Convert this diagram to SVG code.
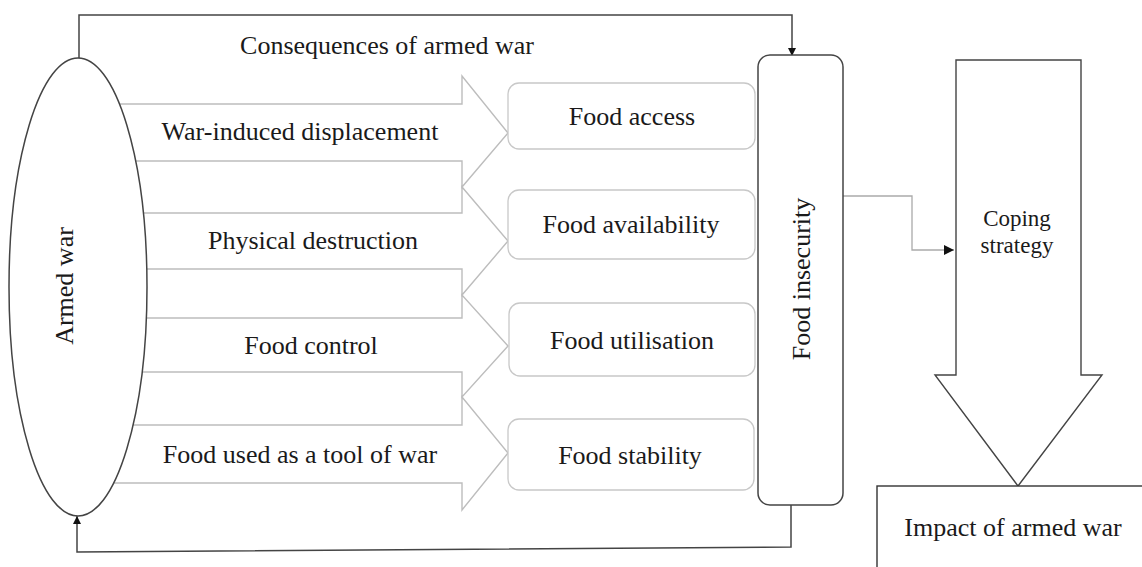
<svg xmlns="http://www.w3.org/2000/svg" width="1142" height="567" viewBox="0 0 1142 567">
<style>
text{font-family:"Liberation Serif","Times New Roman",serif;font-size:26px;fill:#1a1a1a;text-anchor:middle}
.dark{fill:none;stroke:#444;stroke-width:1.5}
.grey{fill:#fff;stroke:#bdbdbd;stroke-width:1.4}
.food{fill:#fff;stroke:#c8c8c8;stroke-width:1.3}
</style>
<defs>
<marker id="ah" viewBox="0 0 10 10" refX="10" refY="5" markerWidth="8" markerHeight="8" markerUnits="userSpaceOnUse" orient="auto"><path d="M0,0 L10,5 L0,10 z" fill="#111"/></marker>
<marker id="ah2" viewBox="0 0 10 10" refX="10" refY="5" markerWidth="10" markerHeight="10" markerUnits="userSpaceOnUse" orient="auto"><path d="M0,0 L10,5 L0,10 z" fill="#111"/></marker>
</defs>
<g id="flow-arrows">
<polygon class="grey" points="80,104 462,104 462,76 508,133 462,187 462,161 80,161"/>
<polygon class="grey" points="80,213 462,213 462,187 508,241 462,295 462,269 80,269"/>
<polygon class="grey" points="80,318 462,318 462,295 508,346 462,397 462,372 80,372"/>
<polygon class="grey" points="80,425 462,425 462,397 508,453 462,510 462,483 80,483"/>
</g>
<g id="connectors">
<polyline class="dark" points="79,58 79,15 792,15 792,56" marker-end="url(#ah)"/>
<polyline class="dark" points="791,505 791,547 77,552 77,516" marker-end="url(#ah)"/>
<polyline fill="none" stroke="#aaa" stroke-width="1.3" points="843,196 912,196 912,250 954,250" marker-end="url(#ah2)"/>
</g>
<g id="armed-war">
<ellipse cx="78" cy="287" rx="69" ry="229" fill="#fff" stroke="#444" stroke-width="1.5"/>
<text transform="translate(73,286) rotate(-90)">Armed war</text>
</g>
<text x="387" y="54">Consequences of armed war</text>
<text x="300" y="140">War-induced displacement</text>
<text x="313" y="249">Physical destruction</text>
<text x="311" y="354">Food control</text>
<text x="300" y="463">Food used as a tool of war</text>
<g id="food-access"><rect class="food" x="508" y="83" width="247" height="66" rx="11"/><text x="632" y="125">Food access</text></g>
<g id="food-availability"><rect class="food" x="508" y="190" width="247" height="69" rx="11"/><text x="631" y="233">Food availability</text></g>
<g id="food-utilisation"><rect class="food" x="509" y="303" width="246" height="73" rx="11"/><text x="632" y="349">Food utilisation</text></g>
<g id="food-stability"><rect class="food" x="508" y="419" width="246" height="71" rx="11"/><text x="630" y="464">Food stability</text></g>
<g id="food-insecurity">
<rect x="758" y="55" width="85" height="450" rx="12" fill="#fff" stroke="#444" stroke-width="1.5"/>
<text transform="translate(810,279) rotate(-90)">Food insecurity</text>
</g>
<g id="coping-strategy">
<polygon fill="#fff" stroke="#444" stroke-width="1.4" points="956,60 1081,60 1081,375 1102,375 1018,486 935,375 956,375"/>
<text x="1017" y="226" style="font-size:23px">Coping</text>
<text x="1017" y="253" style="font-size:23px">strategy</text>
</g>
<g id="impact">
<rect x="877" y="486" width="300" height="120" fill="#fff" stroke="#333" stroke-width="1.4"/>
<text x="1013" y="536">Impact of armed war</text>
</g>
</svg>
